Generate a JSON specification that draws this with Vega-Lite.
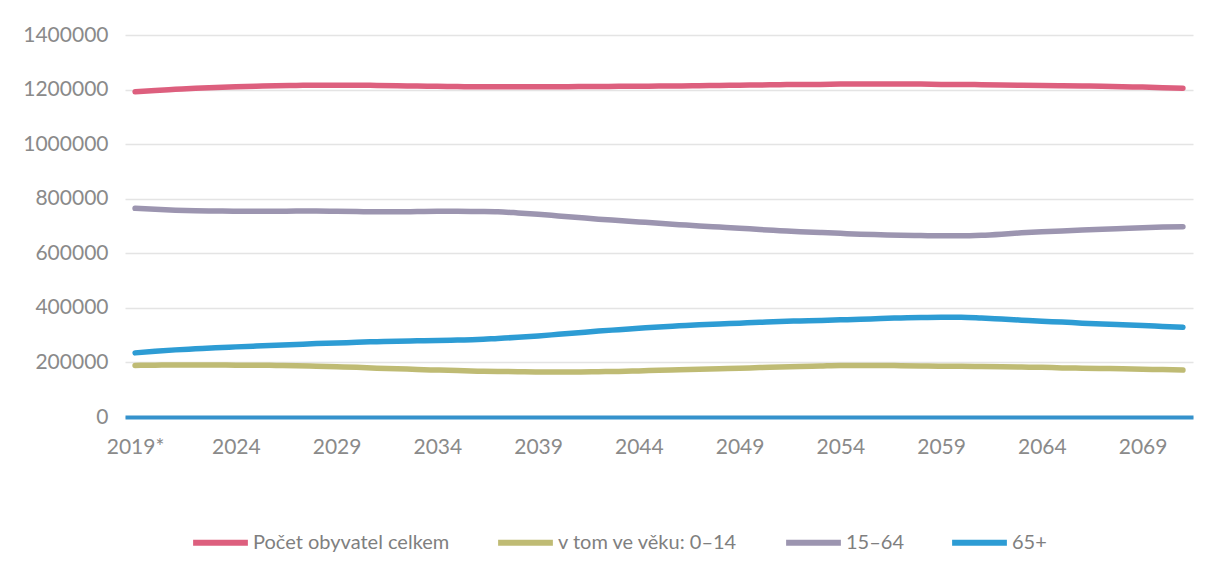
{
  "$schema": "https://vega.github.io/schema/vega-lite/v6.json",
  "width": 1068,
  "height": 382,
  "autosize": {"type": "none"},
  "padding": {"left": 125, "top": 35, "right": 26, "bottom": 164},
  "background": "white",
  "data": {"values": [
    {"rok": 2019, "Počet obyvatel celkem": 1192000, "v tom ve věku: 0–14": 189000, "15–64": 765000, "65+": 235000},
    {"rok": 2020, "Počet obyvatel celkem": 1197000, "v tom ve věku: 0–14": 190000, "15–64": 761000, "65+": 241000},
    {"rok": 2021, "Počet obyvatel celkem": 1201000, "v tom ve věku: 0–14": 191000, "15–64": 758000, "65+": 246000},
    {"rok": 2022, "Počet obyvatel celkem": 1205000, "v tom ve věku: 0–14": 191000, "15–64": 756000, "65+": 250000},
    {"rok": 2023, "Počet obyvatel celkem": 1208000, "v tom ve věku: 0–14": 191000, "15–64": 755000, "65+": 254000},
    {"rok": 2024, "Počet obyvatel celkem": 1210000, "v tom ve věku: 0–14": 190000, "15–64": 754000, "65+": 257000},
    {"rok": 2025, "Počet obyvatel celkem": 1212000, "v tom ve věku: 0–14": 190000, "15–64": 754000, "65+": 260000},
    {"rok": 2026, "Počet obyvatel celkem": 1214000, "v tom ve věku: 0–14": 189000, "15–64": 754000, "65+": 263000},
    {"rok": 2027, "Počet obyvatel celkem": 1215000, "v tom ve věku: 0–14": 188000, "15–64": 755000, "65+": 266000},
    {"rok": 2028, "Počet obyvatel celkem": 1216000, "v tom ve věku: 0–14": 186000, "15–64": 755000, "65+": 269000},
    {"rok": 2029, "Počet obyvatel celkem": 1216000, "v tom ve věku: 0–14": 184000, "15–64": 754000, "65+": 271000},
    {"rok": 2030, "Počet obyvatel celkem": 1216000, "v tom ve věku: 0–14": 182000, "15–64": 753000, "65+": 274000},
    {"rok": 2031, "Počet obyvatel celkem": 1215000, "v tom ve věku: 0–14": 179000, "15–64": 752000, "65+": 276000},
    {"rok": 2032, "Počet obyvatel celkem": 1214000, "v tom ve věku: 0–14": 177000, "15–64": 752000, "65+": 278000},
    {"rok": 2033, "Počet obyvatel celkem": 1213000, "v tom ve věku: 0–14": 174000, "15–64": 753000, "65+": 279000},
    {"rok": 2034, "Počet obyvatel celkem": 1212000, "v tom ve věku: 0–14": 172000, "15–64": 754000, "65+": 280000},
    {"rok": 2035, "Počet obyvatel celkem": 1211000, "v tom ve věku: 0–14": 170000, "15–64": 754000, "65+": 282000},
    {"rok": 2036, "Počet obyvatel celkem": 1210000, "v tom ve věku: 0–14": 168000, "15–64": 753000, "65+": 284000},
    {"rok": 2037, "Počet obyvatel celkem": 1210000, "v tom ve věku: 0–14": 167000, "15–64": 752000, "65+": 288000},
    {"rok": 2038, "Počet obyvatel celkem": 1210000, "v tom ve věku: 0–14": 166000, "15–64": 748000, "65+": 292000},
    {"rok": 2039, "Počet obyvatel celkem": 1210000, "v tom ve věku: 0–14": 165000, "15–64": 743000, "65+": 297000},
    {"rok": 2040, "Počet obyvatel celkem": 1210000, "v tom ve věku: 0–14": 165000, "15–64": 737000, "65+": 303000},
    {"rok": 2041, "Počet obyvatel celkem": 1211000, "v tom ve věku: 0–14": 165000, "15–64": 731000, "65+": 309000},
    {"rok": 2042, "Počet obyvatel celkem": 1211000, "v tom ve věku: 0–14": 166000, "15–64": 725000, "65+": 315000},
    {"rok": 2043, "Počet obyvatel celkem": 1212000, "v tom ve věku: 0–14": 167000, "15–64": 720000, "65+": 320000},
    {"rok": 2044, "Počet obyvatel celkem": 1212000, "v tom ve věku: 0–14": 169000, "15–64": 715000, "65+": 325000},
    {"rok": 2045, "Počet obyvatel celkem": 1213000, "v tom ve věku: 0–14": 171000, "15–64": 710000, "65+": 330000},
    {"rok": 2046, "Počet obyvatel celkem": 1213000, "v tom ve věku: 0–14": 173000, "15–64": 705000, "65+": 334000},
    {"rok": 2047, "Počet obyvatel celkem": 1214000, "v tom ve věku: 0–14": 175000, "15–64": 700000, "65+": 338000},
    {"rok": 2048, "Počet obyvatel celkem": 1215000, "v tom ve věku: 0–14": 177000, "15–64": 696000, "65+": 341000},
    {"rok": 2049, "Počet obyvatel celkem": 1216000, "v tom ve věku: 0–14": 179000, "15–64": 692000, "65+": 344000},
    {"rok": 2050, "Počet obyvatel celkem": 1217000, "v tom ve věku: 0–14": 181000, "15–64": 687000, "65+": 347000},
    {"rok": 2051, "Počet obyvatel celkem": 1218000, "v tom ve věku: 0–14": 183000, "15–64": 683000, "65+": 350000},
    {"rok": 2052, "Počet obyvatel celkem": 1219000, "v tom ve věku: 0–14": 185000, "15–64": 679000, "65+": 352000},
    {"rok": 2053, "Počet obyvatel celkem": 1219000, "v tom ve věku: 0–14": 187000, "15–64": 676000, "65+": 354000},
    {"rok": 2054, "Počet obyvatel celkem": 1220000, "v tom ve věku: 0–14": 189000, "15–64": 673000, "65+": 356000},
    {"rok": 2055, "Počet obyvatel celkem": 1220000, "v tom ve věku: 0–14": 189000, "15–64": 670000, "65+": 358000},
    {"rok": 2056, "Počet obyvatel celkem": 1220000, "v tom ve věku: 0–14": 189000, "15–64": 668000, "65+": 361000},
    {"rok": 2057, "Počet obyvatel celkem": 1220000, "v tom ve věku: 0–14": 188000, "15–64": 666000, "65+": 363000},
    {"rok": 2058, "Počet obyvatel celkem": 1220000, "v tom ve věku: 0–14": 187000, "15–64": 665000, "65+": 365000},
    {"rok": 2059, "Počet obyvatel celkem": 1219000, "v tom ve věku: 0–14": 186000, "15–64": 664000, "65+": 366000},
    {"rok": 2060, "Počet obyvatel celkem": 1219000, "v tom ve věku: 0–14": 186000, "15–64": 664000, "65+": 366000},
    {"rok": 2061, "Počet obyvatel celkem": 1218000, "v tom ve věku: 0–14": 185000, "15–64": 666000, "65+": 363000},
    {"rok": 2062, "Počet obyvatel celkem": 1217000, "v tom ve věku: 0–14": 184000, "15–64": 670000, "65+": 359000},
    {"rok": 2063, "Počet obyvatel celkem": 1216000, "v tom ve věku: 0–14": 183000, "15–64": 675000, "65+": 355000},
    {"rok": 2064, "Počet obyvatel celkem": 1215000, "v tom ve věku: 0–14": 182000, "15–64": 679000, "65+": 351000},
    {"rok": 2065, "Počet obyvatel celkem": 1214000, "v tom ve věku: 0–14": 180000, "15–64": 682000, "65+": 348000},
    {"rok": 2066, "Počet obyvatel celkem": 1213000, "v tom ve věku: 0–14": 179000, "15–64": 685000, "65+": 344000},
    {"rok": 2067, "Počet obyvatel celkem": 1212000, "v tom ve věku: 0–14": 178000, "15–64": 688000, "65+": 341000},
    {"rok": 2068, "Počet obyvatel celkem": 1210000, "v tom ve věku: 0–14": 177000, "15–64": 691000, "65+": 338000},
    {"rok": 2069, "Počet obyvatel celkem": 1209000, "v tom ve věku: 0–14": 175000, "15–64": 694000, "65+": 335000},
    {"rok": 2070, "Počet obyvatel celkem": 1207000, "v tom ve věku: 0–14": 174000, "15–64": 696000, "65+": 332000},
    {"rok": 2071, "Počet obyvatel celkem": 1205000, "v tom ve věku: 0–14": 172000, "15–64": 697000, "65+": 329000}
  ]},
  "transform": [
    {"fold": ["Počet obyvatel celkem", "v tom ve věku: 0–14", "15–64", "65+"], "as": ["skupina", "pocet"]}
  ],
  "mark": {"type": "line", "interpolate": "monotone", "strokeWidth": 5.5, "strokeCap": "round", "strokeJoin": "round"},
  "encoding": {
    "x": {
      "field": "rok",
      "type": "quantitative",
      "scale": {"domain": [2018.5, 2071.5], "nice": false, "zero": false},
      "axis": {
        "values": [2019, 2024, 2029, 2034, 2039, 2044, 2049, 2054, 2059, 2064, 2069],
        "labelExpr": "datum.value == 2019 ? '2019*' : format(datum.value, 'd')",
        "title": null,
        "grid": false,
        "ticks": false,
        "domainColor": "#3592cc",
        "domainWidth": 4,
        "labelPadding": 19,
        "labelFontSize": 21,
        "labelColor": "#8a8a8a",
        "labelFont": "Lato",
        "labelFontWeight": "normal"
      }
    },
    "y": {
      "field": "pocet",
      "type": "quantitative",
      "scale": {"domain": [0, 1400000], "nice": false},
      "axis": {
        "values": [0, 200000, 400000, 600000, 800000, 1000000, 1200000, 1400000],
        "format": "d",
        "title": null,
        "domain": false,
        "ticks": false,
        "gridColor": "#e4e4e4",
        "gridWidth": 1.5,
        "labelPadding": 17,
        "labelFontSize": 21,
        "labelColor": "#8a8a8a",
        "labelFont": "Lato"
      }
    },
    "color": {
      "field": "skupina",
      "type": "nominal",
      "sort": null,
      "scale": {
        "domain": ["Počet obyvatel celkem", "v tom ve věku: 0–14", "15–64", "65+"],
        "range": ["#dd5f7e", "#bfbb74", "#9c95b0", "#2d9cd4"]
      },
      "legend": {
        "orient": "none",
        "legendX": 65,
        "legendY": 477,
        "direction": "horizontal",
        "title": null,
        "symbolType": "stroke",
        "symbolStrokeWidth": 6,
        "symbolSize": 3000,
        "labelFontSize": 20,
        "labelColor": "#7f7f7f",
        "labelFont": "Lato",
        "labelOffset": 2,
        "columnPadding": 36,
        "labelLimit": 400
      }
    }
  },
  "config": {
    "view": {"stroke": null}
  }
}
